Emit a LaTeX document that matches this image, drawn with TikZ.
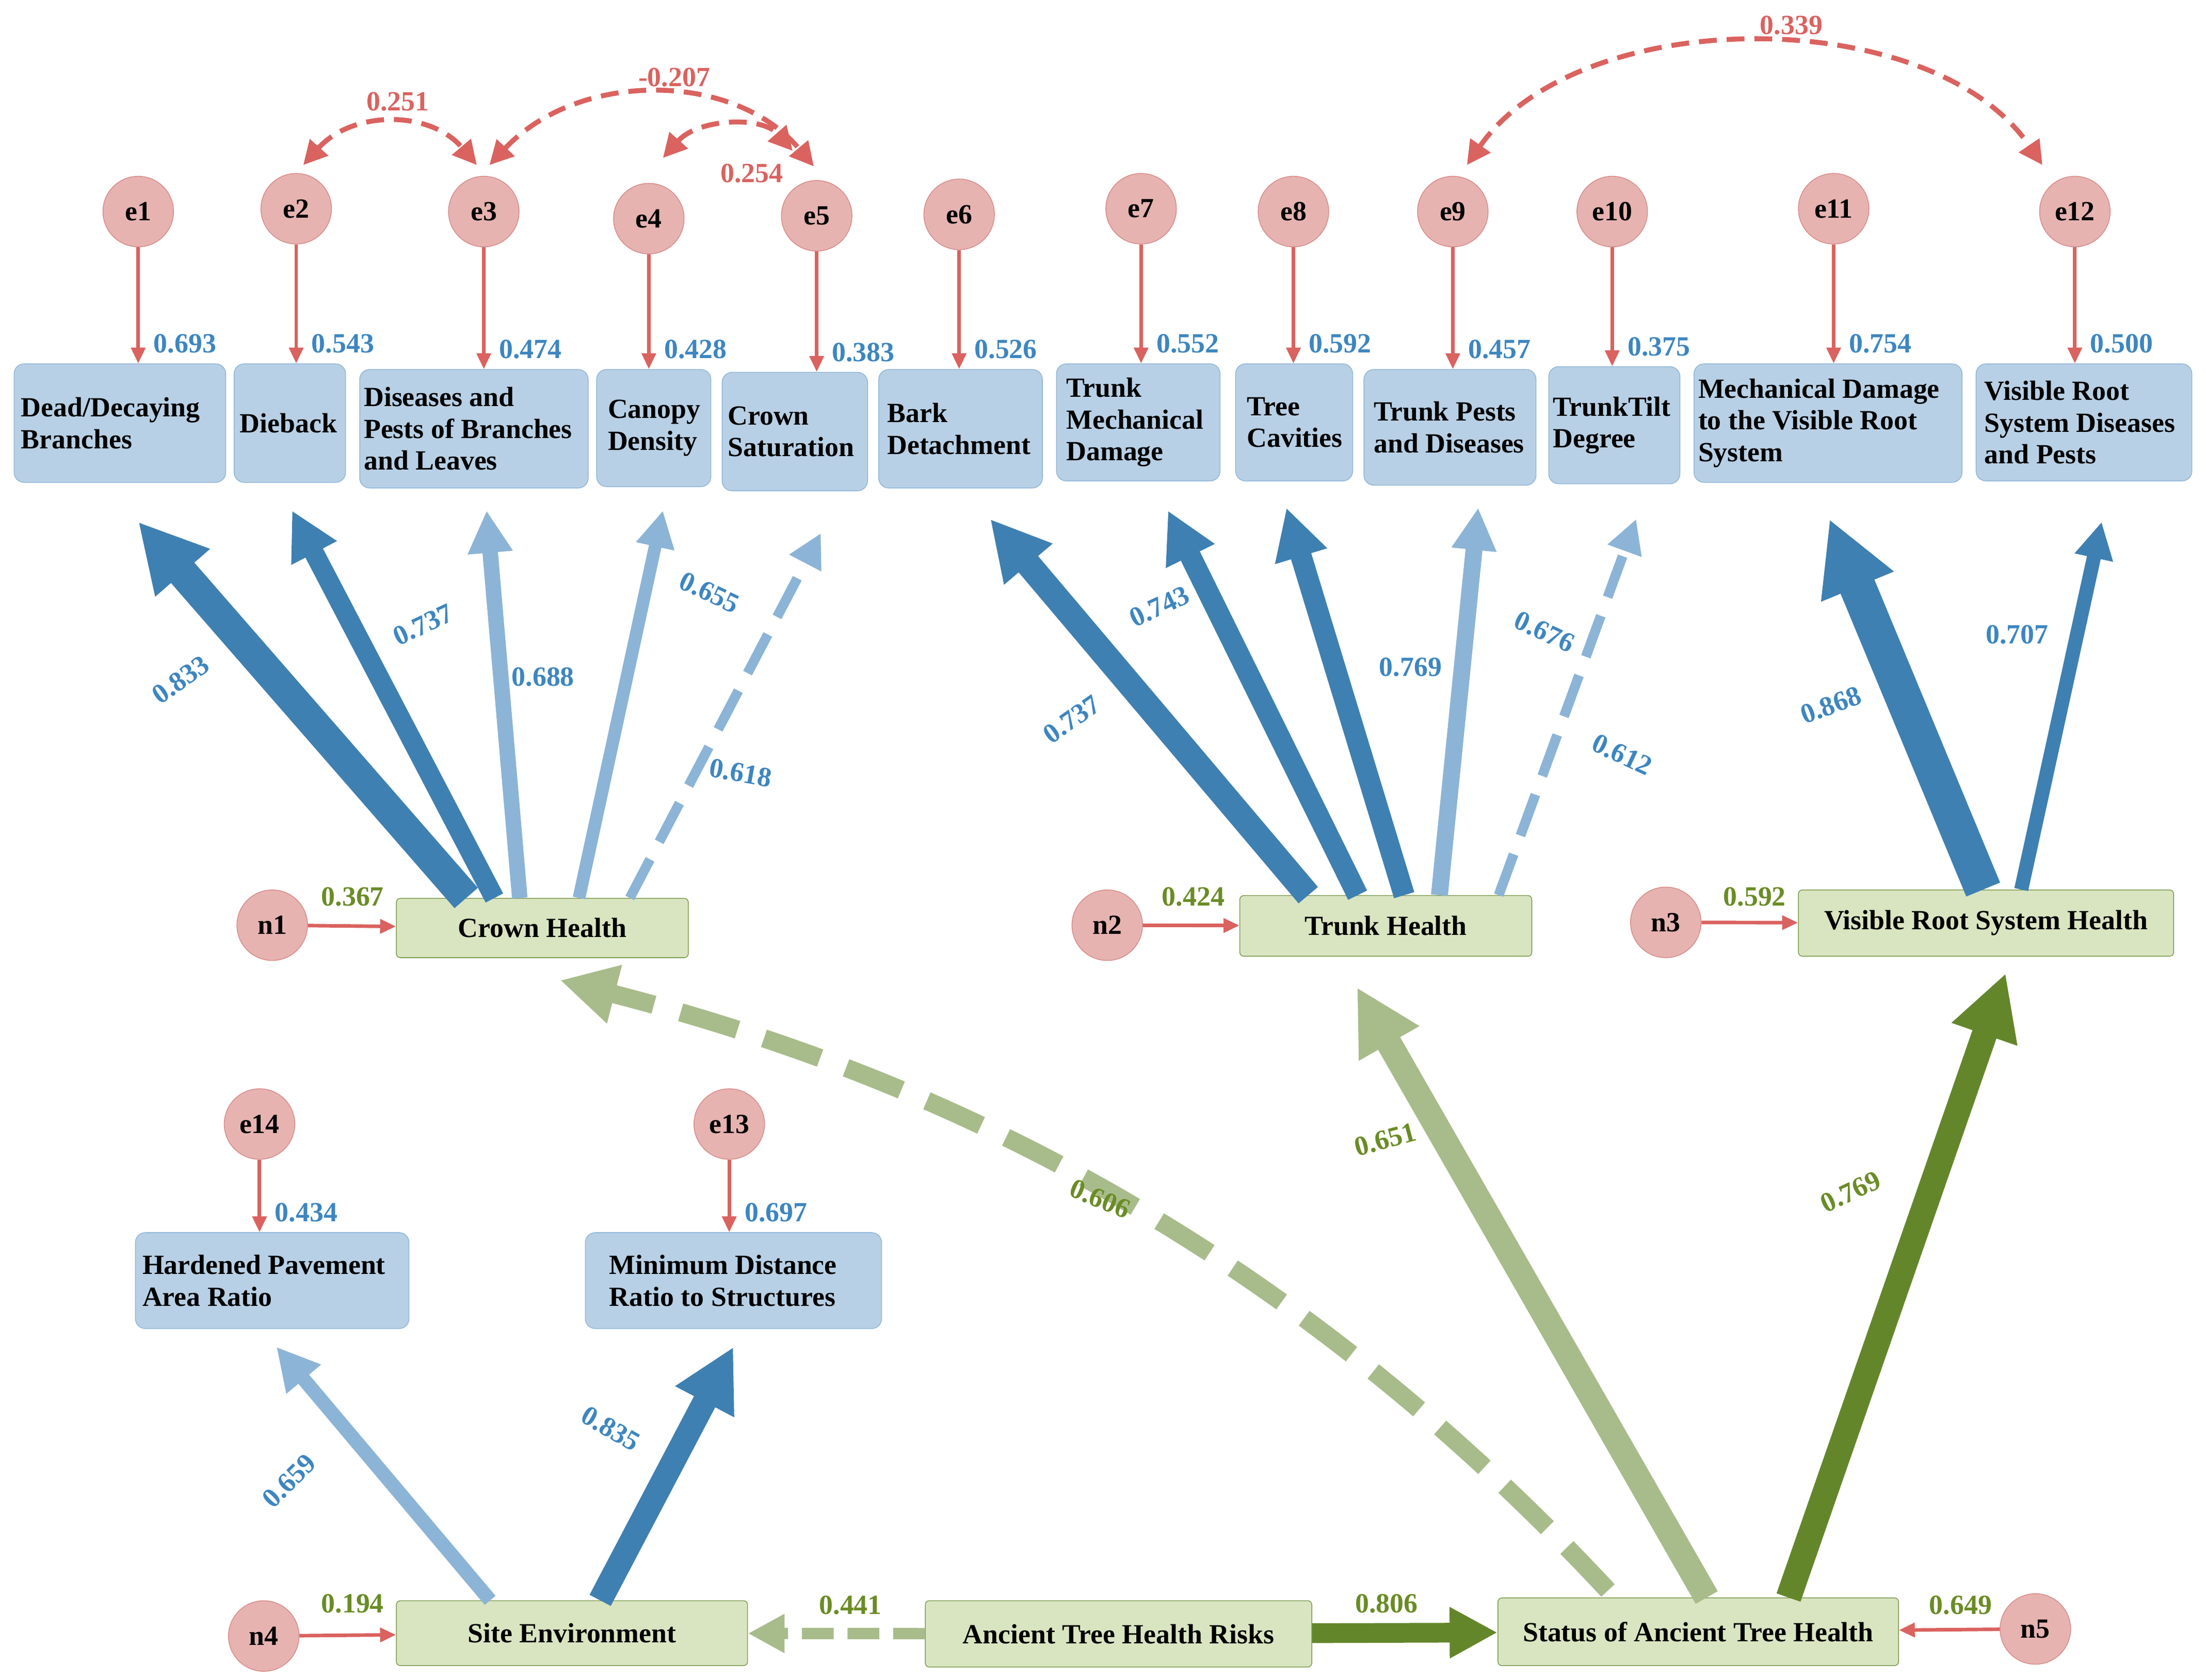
\documentclass[tikz,border=0pt]{standalone}
\usepackage{fontspec}
\setmainfont{Liberation Serif}
\usetikzlibrary{arrows.meta,fit,calc}
\definecolor{dblue}{HTML}{3E80B2}
\definecolor{lblue}{HTML}{8CB4D6}
\definecolor{boxb}{HTML}{B8D0E5}
\definecolor{boxbd}{HTML}{8FB6D8}
\definecolor{cfill}{HTML}{E6B3B1}
\definecolor{cdraw}{HTML}{D98B88}
\definecolor{red1}{HTML}{DA625F}
\definecolor{dgreen}{HTML}{64862B}
\definecolor{lgreen}{HTML}{A8BC8B}
\definecolor{gfill}{HTML}{D9E5C1}
\definecolor{gdraw}{HTML}{7E9B50}
\definecolor{tblue}{HTML}{3D86C0}
\definecolor{tgreen}{HTML}{6A8C25}
\begin{document}
\begin{tikzpicture}[x=0.025cm,y=-0.025cm,font=\fontsize{14}{16}\selectfont\bfseries,
 box/.style={draw=boxbd,fill=boxb,rounded corners=5pt,inner sep=0pt},
 lat/.style={draw=gdraw,fill=gfill,rounded corners=2pt,inner sep=0pt},
 err/.style={circle,draw=cdraw,fill=cfill,minimum size=1.25cm,inner sep=0pt},
 ea/.style={red1,line width=1.8pt,-{Triangle[length=8pt,width=7pt]}},
 cor/.style={red1,line width=2.5pt,dash pattern=on 9pt off 5pt,{Triangle[length=12pt,width=12pt]}-{Triangle[length=12pt,width=12pt]}},
 lb/.style={text=tblue},lg/.style={text=tgreen},lr/.style={text=red1},
 fat/.style n args={3}{line width=#2*0.71pt,#1,-{Triangle[length=#3*0.71pt,width=#3*0.71pt]}}]
\useasboundingbox (0,0) rectangle (1564,1191);
\newcommand\bx[6]{\node[#6,fit={(#2,#3) (#4,#5)}] (#1) {};}
\newcommand\bt[3]{\node[anchor=west,align=left,inner sep=0pt] (#1T) at ($(#1.west)+(#2,0)$) {#3};}
% indicator boxes
\bx{b1}{10}{258}{160}{342}{box}\bt{b1}{5}{Dead/Decaying\\Branches}
\bx{b2}{166}{258}{245}{342}{box}\bt{b2}{4}{Dieback}
\bx{b3}{255}{262}{417}{346}{box}\bt{b3}{3}{Diseases and\\Pests of Branches\\and Leaves}
\bx{b4}{423}{262}{504}{345}{box}\bt{b4}{8}{Canopy\\Density}
\bx{b5}{512}{264}{615}{348}{box}\bt{b5}{4}{Crown\\Saturation}
\bx{b6}{623}{262}{739}{346}{box}\bt{b6}{6}{Bark\\Detachment}
\bx{b7}{749}{258}{865}{341}{box}\bt{b7}{7}{Trunk\\Mechanical\\Damage}
\bx{b8}{876}{258}{959}{341}{box}\bt{b8}{8}{Tree\\Cavities}
\bx{b9}{967}{262}{1089}{344}{box}\bt{b9}{7}{Trunk Pests\\and Diseases}
\bx{b10}{1098}{260}{1191}{343}{box}\bt{b10}{3}{TrunkTilt\\Degree}
\bx{b11}{1201}{258}{1391}{342}{box}\bt{b11}{3}{Mechanical Damage\\to the Visible Root\\System}
\bx{b12}{1401}{258}{1554}{341}{box}\bt{b12}{6}{Visible Root\\System Diseases\\and Pests}
\bx{b13}{96}{874}{290}{942}{box}\bt{b13}{5}{Hardened Pavement\\Area Ratio}
\bx{b14}{415}{874}{625}{942}{box}\bt{b14}{17}{Minimum Distance\\Ratio to Structures}
% latent
\bx{crown}{281}{637}{488}{679}{lat}\node (crownT) at (crown) {Crown Health};
\bx{trunk}{879}{635}{1086}{678}{lat}\node (trunkT) at (trunk) {Trunk Health};
\bx{root}{1275}{631}{1541}{678}{lat}\node (rootT) at (root) {Visible Root System Health};
\bx{site}{281}{1135}{530}{1181}{lat}\node (siteT) at (site) {Site Environment};
\bx{risk}{656}{1135}{930}{1182}{lat}\node (riskT) at (risk) {Ancient Tree Health Risks};
\bx{stat}{1062}{1133}{1346}{1181}{lat}\node (statT) at (stat) {Status of Ancient Tree Health};
% errors
\foreach \n/\x/\y in {e1/98/150,e2/210/148,e3/343/150,e4/460/155,e5/579/153,e6/680/152,e7/809/148,e8/917/150,e9/1030/150,e10/1143/150,e11/1300/148,e12/1471/150,e14/184/797,e13/517/797,n1/193/656,n2/785/656,n3/1181/654,n4/187/1160,n5/1443/1155}
  \node[err] (\n) at (\x,\y) {\n};
\foreach \e/\b/\l in {e1/b1/0.693,e2/b2/0.543,e3/b3/0.474,e4/b4/0.428,e5/b5/0.383,e6/b6/0.526,e7/b7/0.552,e8/b8/0.592,e9/b9/0.457,e10/b10/0.375,e11/b11/0.754,e12/b12/0.500,e14/b13/0.434,e13/b14/0.697}
  {\draw[ea] (\e) -- (\e|-\b.north);
   \node[lb,anchor=west] (\e L) at ($(\e|-\b.north)+(6,-14)$) {\l};}
\draw[ea] (n1) -- (crown);\node[lg] (n1L) at (250,636) {0.367};
\draw[ea] (n2) -- (trunk);\node[lg] (n2L) at (846,636) {0.424};
\draw[ea] (n3) -- (root);\node[lg] (n3L) at (1244,636) {0.592};
\draw[ea] (n4) -- (site);\node[lg] (n4L) at (250,1137) {0.194};
\draw[ea] (n5) -- (stat);\node[lg] (n5L) at (1390,1138) {0.649};
% correlations
\coordinate (p2) at (215,117); \coordinate (p3a) at (338,117);
\coordinate (p3b) at (347,117); \coordinate (p5a) at (577,118);
\coordinate (p4) at (470,112); \coordinate (p5b) at (562,107);
\coordinate (p9) at (1040,117); \coordinate (p12) at (1448,117);
\draw[cor] (p2) .. controls (250,78) and (305,78) .. (p3a);
\draw[cor] (p3b) .. controls (410,50) and (520,50) .. (p5a);
\draw[cor] (p4) .. controls (495,84) and (540,82) .. (p5b);
\draw[cor] (p9) .. controls (1120,2) and (1370,2) .. (p12);
\node[lr] (c1) at (282,72) {0.251};
\node[lr] (c2) at (478,55) {-0.207};
\node[lr] (c3) at (533,123) {0.254};
\node[lr] (c4) at (1270,18) {0.339};
% crown loadings
\draw[fat={dblue}{22}{48}] ($(crown.north)+(-54,0)$) -- (98,370);
\draw[fat={dblue}{14}{34}] ($(crown.north)+(-34,0)$) -- (207,362);
\draw[fat={lblue}{11}{30}] ($(crown.north)+(-16,0)$) -- (345,362);
\draw[fat={lblue}{9}{26}] ($(crown.north)+(26,0)$) -- (470,362);
\draw[fat={lblue}{7}{24},dash pattern=on 22pt off 10pt] ($(crown.north)+(62,0)$) -- (582,378);
\node[lb,rotate=35] (l1) at (128,482) {0.833};
\node[lb,rotate=25] (l2) at (300,443) {0.737};
\node[lb] (l3) at (385,480) {0.688};
\node[lb,rotate=-25] (l4) at (503,420) {0.655};
\node[lb,rotate=-10] (l5) at (525,548) {0.618};
% trunk loadings
\draw[fat={dblue}{18}{42}] ($(trunk.north)+(-55,0)$) -- (702,368);
\draw[fat={dblue}{15}{36}] ($(trunk.north)+(-20,0)$) -- (828,362);
\draw[fat={dblue}{15}{36}] ($(trunk.north)+(13,0)$) -- (912,360);
\draw[fat={lblue}{12}{30}] ($(trunk.north)+(38,0)$) -- (1048,360);
\draw[fat={lblue}{7}{24},dash pattern=on 22pt off 10pt] ($(trunk.north)+(80,0)$) -- (1160,368);
\node[lb,rotate=35] (l6) at (760,510) {0.737};
\node[lb,rotate=25] (l7) at (822,430) {0.743};
\node[lb] (l8) at (1000,473) {0.769};
\node[lb,rotate=-25] (l9) at (1095,448) {0.676};
\node[lb,rotate=-25] (l10) at (1150,535) {0.612};
% root loadings
\draw[fat={dblue}{26}{52}] ($(root.north)+(-2,0)$) -- (1297,368);
\draw[fat={dblue}{10}{26}] ($(root.north)+(25,0)$) -- (1490,370);
\node[lb,rotate=20] (l11) at (1298,500) {0.868};
\node[lb] (l12) at (1430,450) {0.707};
% site loadings
\draw[fat={lblue}{10}{30}] ($(site.north)+(-58,0)$) -- (196,955);
\draw[fat={dblue}{17}{44}] ($(site.north)+(20,0)$) -- (520,955);
\node[lb,rotate=45] (l13) at (205,1050) {0.659};
\node[lb,rotate=-30] (l14) at (433,1013) {0.835};
% structural
\draw[fat={lgreen}{8}{26},dash pattern=on 16pt off 7pt] (risk) -- (site);
\draw[fat={dgreen}{14}{34}] (risk) -- (stat);
\node[lg] (l15) at (603,1138) {0.441};
\node[lg] (l16) at (983,1137) {0.806};
\draw[fat={lgreen}{13}{40},dash pattern=on 30pt off 14pt] ($(stat.north)+(-64,-5)$) .. controls (900,870) and (650,760) .. (397,695);
\draw[fat={lgreen}{18}{46}] ($(stat.north)+(6,0)$) -- (962,700);
\draw[fat={dgreen}{18}{46}] ($(stat.north)+(64,0)$) -- (1422,690);
\node[lg,rotate=-22] (l17) at (780,850) {0.606};
\node[lg,rotate=15] (l18) at (982,808) {0.651};
\node[lg,rotate=25] (l19) at (1312,845) {0.769};
\end{tikzpicture}
\end{document}
